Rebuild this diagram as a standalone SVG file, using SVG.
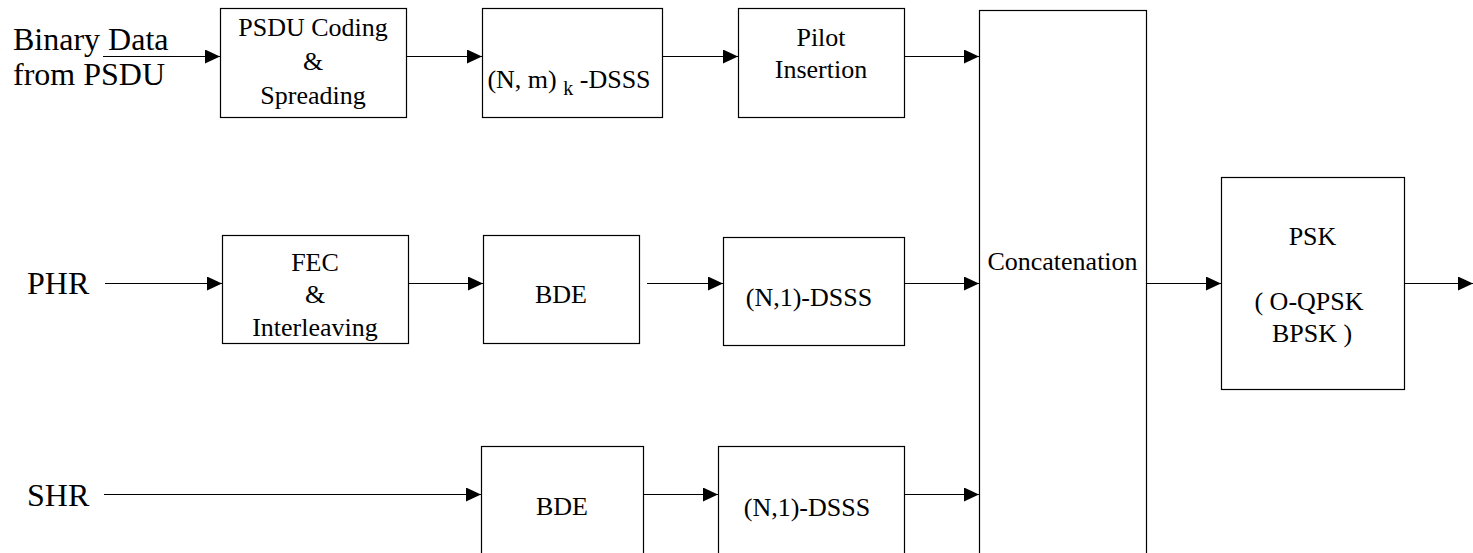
<svg xmlns="http://www.w3.org/2000/svg" width="1473" height="553" viewBox="0 0 1473 553">
<style>
.box{fill:#fff;stroke:#000;stroke-width:1.2}
.t{font-size:26px;fill:#000;text-anchor:middle}
.lbl{font-size:32px;fill:#000}
.c{stroke:#000;stroke-width:1.2;fill:none;marker-end:url(#ah)}
</style>
<defs>
<marker id="ah" markerUnits="userSpaceOnUse" markerWidth="16" markerHeight="15" refX="15" refY="7" orient="auto">
<path d="M0,0 L15,7 L0,14 Z" fill="#000"/>
</marker>
</defs>
<rect width="1473" height="553" fill="#fff"/>
<g font-family="Liberation Serif, serif">
<g id="labels">
<text class="lbl" x="13" y="50">Binary Data</text>
<text class="lbl" x="13" y="85">from PSDU</text>
<text class="lbl" x="27" y="294">PHR</text>
<text class="lbl" x="27" y="506">SHR</text>
</g>
<g id="psdu-coding">
<rect class="box" x="220.5" y="8.5" width="186" height="109"/>
<text class="t" x="313" y="36">PSDU Coding</text>
<text class="t" x="313" y="70">&amp;</text>
<text class="t" x="313" y="104">Spreading</text>
</g>
<g id="nmk-dsss">
<rect class="box" x="482.5" y="8.5" width="180" height="109"/>
<text class="t" x="569" y="88">(N, m) <tspan font-size="20" dy="7">k</tspan><tspan dy="-7"> -DSSS</tspan></text>
</g>
<g id="pilot">
<rect class="box" x="738.5" y="8.5" width="166" height="109"/>
<text class="t" x="821" y="46">Pilot</text>
<text class="t" x="821" y="78">Insertion</text>
</g>
<g id="concatenation">
<rect class="box" x="979.5" y="10.5" width="167" height="580"/>
<text class="t" x="1062.5" y="270">Concatenation</text>
</g>
<g id="fec">
<rect class="box" x="222.5" y="235.5" width="186" height="108"/>
<text class="t" x="315" y="271">FEC</text>
<text class="t" x="315" y="303">&amp;</text>
<text class="t" x="315" y="336">Interleaving</text>
</g>
<g id="bde-phr">
<rect class="box" x="483.5" y="235.5" width="156" height="108"/>
<text class="t" x="561" y="303">BDE</text>
</g>
<g id="dsss-phr">
<rect class="box" x="723.5" y="237.5" width="181" height="108"/>
<text class="t" x="809" y="306">(N,1)-DSSS</text>
</g>
<g id="psk">
<rect class="box" x="1221.5" y="177.5" width="183" height="212"/>
<text class="t" x="1312.5" y="245">PSK</text>
<text class="t" x="1309" y="310">( O-QPSK</text>
<text class="t" x="1312" y="342">BPSK )</text>
</g>
<g id="bde-shr">
<rect class="box" x="481.5" y="446.5" width="162" height="150"/>
<text class="t" x="562" y="515">BDE</text>
</g>
<g id="dsss-shr">
<rect class="box" x="718.5" y="446.5" width="186" height="150"/>
<text class="t" x="807" y="516">(N,1)-DSSS</text>
</g>
</g>
<g id="connectors">
<line class="c" x1="103" y1="56.5" x2="220" y2="56.5"/>
<line class="c" x1="406" y1="56.5" x2="482" y2="56.5"/>
<line class="c" x1="662" y1="56.5" x2="738" y2="56.5"/>
<line class="c" x1="905" y1="56.5" x2="979" y2="56.5"/>
<line class="c" x1="105" y1="283.5" x2="222" y2="283.5"/>
<line class="c" x1="408" y1="283.5" x2="483" y2="283.5"/>
<line class="c" x1="647" y1="283.5" x2="723" y2="283.5"/>
<line class="c" x1="905" y1="283.5" x2="979" y2="283.5"/>
<line class="c" x1="1146" y1="283.5" x2="1221" y2="283.5"/>
<line class="c" x1="1404" y1="283.5" x2="1473" y2="283.5"/>
<line class="c" x1="104" y1="494.5" x2="481" y2="494.5"/>
<line class="c" x1="643" y1="494.5" x2="718" y2="494.5"/>
<line class="c" x1="904" y1="494.5" x2="979" y2="494.5"/>
</g>
</svg>
